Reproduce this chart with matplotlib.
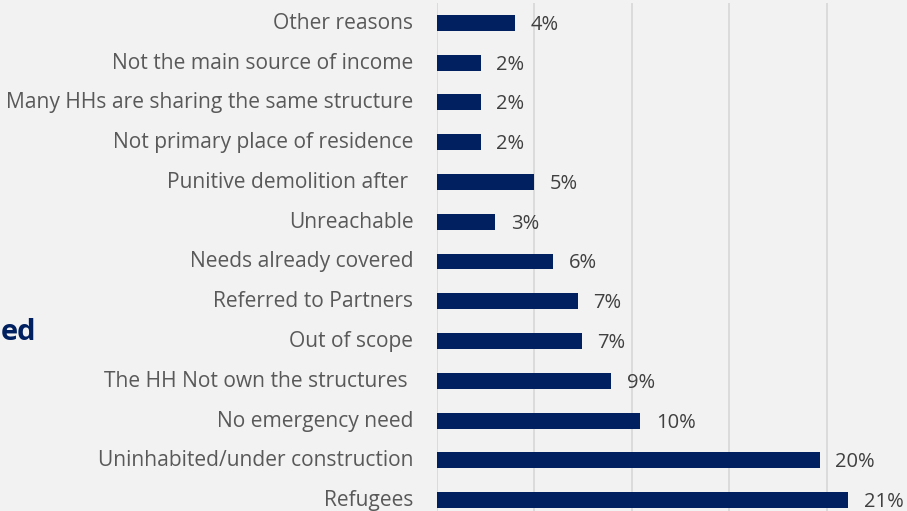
import matplotlib.pyplot as plt
import matplotlib.transforms as mtransforms

# categories top to bottom
reasons = ['Other reasons', 'Not the main source of income',
           'Many HHs are sharing the same structure', 'Not primary place of residence',
           'Punitive demolition after ', 'Unreachable', 'Needs already covered',
           'Referred to Partners', 'Out of scope', 'The HH Not own the structures ',
           'No emergency need', 'Uninhabited/under construction', 'Refugees']
share = [4.0, 2.24, 2.24, 2.24, 5.0, 2.99, 5.95, 7.24, 7.44, 8.93, 10.44, 19.65, 21.1]

bg = '#f2f2f2'
navy = '#002060'
plt.rcParams['font.family'] = ['Open Sans', 'DejaVu Sans']

fig = plt.figure(figsize=(9.07, 5.11), dpi=100, facecolor=bg)
ax = fig.add_axes([437/907, -9/511, 487/907, 517/511])
ax.set_facecolor(bg)

ypos = list(range(len(reasons)))
ax.barh(ypos, share, height=0.4, color=navy, zorder=3)
for y, v in zip(ypos, share):
    ax.text(v + 0.8, y + 0.05, '{:.0f}%'.format(v), va='center', ha='left',
            fontsize=14.5, color='#404040', zorder=4)

ax.set_ylim(len(reasons) - 0.5, -0.5)
ax.set_xlim(0, 25)
ax.set_xticks([0, 5, 10, 15, 20, 25])
ax.set_xticklabels([])
ax.grid(axis='x', color='#d9d9d9', linewidth=1.3, zorder=0)
ax.set_yticks(ypos)
ax.set_yticklabels(reasons, fontsize=15.1, color='#595959')
ax.tick_params(axis='y', length=0, pad=17)
ax.tick_params(axis='x', length=0)
# nudge labels up a little
shift = mtransforms.ScaledTranslation(0, 2/100, fig.dpi_scale_trans)
for lbl in ax.get_yticklabels():
    lbl.set_transform(lbl.get_transform() + shift)
for s in ax.spines.values():
    s.set_visible(False)

fig.text(36/907, 1 - 332/511, 'ed', ha='right', va='center', fontsize=21,
         fontweight='bold', color=navy)

fig.savefig('out.png', dpi=100, facecolor=bg)
